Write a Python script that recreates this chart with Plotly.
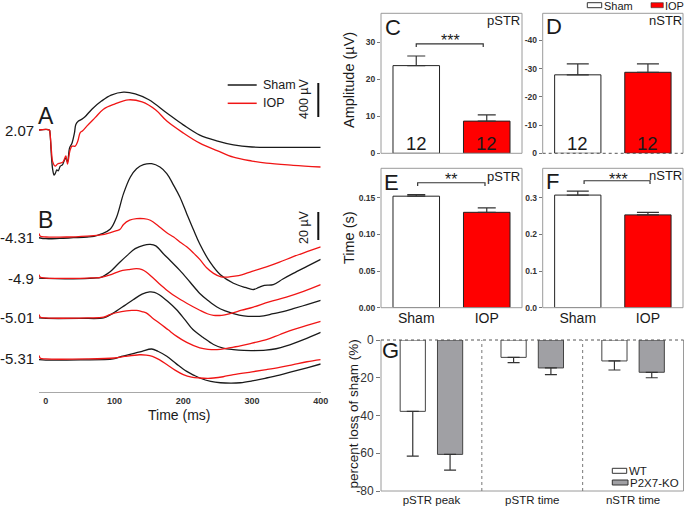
import plotly.graph_objects as go

W, H = 685, 511
FONT = "Liberation Sans, Arial, sans-serif"

# ---------------- Panel A : flash ERG (µV, relative to baseline) ----------------
tA_sham = [-10, 5, 6, 8, 10, 12, 14, 16, 18, 21, 24, 27, 29, 31.5, 34.5, 38, 41.6, 43.6, 47.4,
           52, 57, 67, 81, 95, 113, 130, 150, 176, 200, 224, 250, 273, 300, 330, 360, 400]
vA_sham = [0, 0, -35, -295, -470, -530, -505, -470, -480, -425, -410, -355, -330, -375, -210,
           -155, -35, 65, 105, 125, 155, 245, 340, 410, 445, 425, 355, 200, 60, -60, -130,
           -175, -200, -205, -205, -205]
tA_iop = [-10, 5, 6, 8, 10, 13.5, 17, 20.8, 25, 29, 31.5, 35, 38, 42.6, 46.5, 50, 53.5, 59.6,
          71.7, 83.8, 100, 120, 140, 160, 176, 200, 224, 250, 273, 300, 321, 360, 400]
vA_iop = [0, 0, -35, -235, -375, -425, -400, -390, -375, -305, -400, -245, -190, -190, -130,
          -30, -10, 45, 145, 245, 305, 355, 330, 235, 105, -35, -155, -245, -320, -365, -390,
          -415, -435]
A_label = "2.07"

# ---------------- Panel B : STR traces (µV, relative to each baseline) ----------------
B_labels = ["-4.31", "-4.9", "-5.01", "-5.31"]

tB1_sham = [-10, 0, 20, 40, 60, 70, 80, 93.5, 103, 113, 123, 132, 142, 154, 166, 176, 186, 195,
            205, 215, 224, 239, 254, 273, 290, 302, 310, 318, 331, 345, 360, 380, 400]
vB1_sham = [-0.5, -1.2, -1, -0.5, 0, 0.5, 2, 5.5, 14.3, 31, 42.9, 48.8, 51.7, 52.4, 50, 45.3,
            36.9, 28.6, 16.7, 5, -5, -18, -27, -33, -36, -37.5, -36, -34.5, -34, -30, -26,
            -21, -16]
tB1_iop = [-10, -8, 0, 30, 60, 80, 93, 103, 108, 113, 122, 132, 142, 152, 166, 176, 186, 195,
           205, 215, 224, 234, 244, 255, 265, 275, 285, 300, 321, 340, 360, 380, 400]
vB1_iop = [2.5, 0.5, 0, 0, 0.7, 1.5, 3, 4.5, 5.5, 9, 12, 13.1, 13.1, 12, 7, 3, 0, -3.5, -7,
           -11.5, -16, -22, -26, -28.5, -28.6, -28, -27, -24.5, -21.4, -18, -14, -10.5, -7]

tB2_sham = [-10, 0, 40, 70, 80, 93, 105, 118, 130, 142, 152, 160, 171, 182, 195, 210, 224, 236,
            249, 261, 273, 288, 302, 317, 331, 345, 360, 380, 400]
vB2_sham = [0, -0.3, -0.5, 0, 0.5, 4.3, 10, 16, 21, 23.4, 24, 23, 17.4, 12, 5.5, -3, -11, -16,
            -20.7, -23.5, -25.4, -27, -27.4, -27, -25.4, -24, -21.9, -19, -16]
tB2_iop = [-10, -8, 0, 60, 80, 95, 108, 120, 132, 140, 146, 155, 165, 177, 190, 205, 224, 235,
           244, 256, 268, 285, 302, 325, 350, 375, 400]
vB2_iop = [2.5, 0.5, 0, 0, 0.5, 2.5, 5, 6, 6.7, 6, 4.3, 0.5, -4, -9, -13.6, -18, -23, -25.5,
           -26.6, -26.6, -25.4, -23, -20.7, -17, -13.6, -9.5, -4.7]

tB3_sham = [-10, 0, 50, 84, 93, 102, 115, 127, 140, 151, 158, 165, 178, 190, 202, 214, 229, 244,
            258, 273, 288, 302, 320, 335, 350, 375, 400]
vB3_sham = [0, -0.3, -0.3, 0, 2, 4.7, 9, 13, 17, 18.6, 18.3, 16.6, 11.5, 6, -1, -8.3, -14, -19,
            -21.5, -22.6, -23.2, -23.3, -23, -22, -20, -15.5, -10.3]
tB3_iop = [-10, -8, 0, 60, 84, 93, 110, 125, 132, 140, 146, 155, 165, 178, 190, 205, 224, 236,
           249, 265, 283, 300, 321, 340, 360, 380, 400]
vB3_iop = [2.5, 0.5, 0, 0, 0.5, 2.4, 4.5, 5.4, 5.4, 4.5, 3.6, 0, -3.6, -8.5, -13, -17.5, -21.4,
           -22.4, -22.6, -21.5, -20, -18, -15.5, -12, -8.3, -5.3, -2.4]

tB4_sham = [-10, 0, 50, 98, 110, 127, 140, 154, 163, 176, 190, 205, 215, 224, 240, 254, 270, 283,
            300, 321, 340, 360, 380, 400]
vB4_sham = [-0.5, -0.8, -0.7, 0, 1.8, 3.8, 5.5, 7.1, 5.5, 1.9, -3.5, -8.9, -11.5, -13.6, -16, -17,
            -17.3, -17, -15.7, -13.6, -11.5, -8.9, -6.3, -3.6]
tB4_iop = [-10, -8, 0, 60, 100, 115, 136, 146, 155, 165, 176, 188, 200, 212, 224, 236, 244, 258,
           273, 300, 321, 340, 360, 380, 400]
vB4_iop = [2.5, 0.5, 0, 0, 0.7, 1.8, 3, 2.8, 1.9, -0.5, -4, -8, -11.2, -13, -13.6, -13.8, -13.6,
           -12.7, -11.2, -9.2, -7.6, -6, -4, -2, -0.5]

# ---------------- Bar panels ----------------
groups = ["Sham", "IOP"]
n_per_group = [12, 12]
pSTR_amp = [23.7, 8.7]          # C
pSTR_amp_err = [2.6, 1.7]
nSTR_amp = [-27.8, -28.7]       # D
nSTR_amp_err = [3.9, 3.0]
pSTR_time = [0.152, 0.130]      # E
pSTR_time_err = [0.002, 0.006]
nSTR_time = [0.307, 0.253]      # F
nSTR_time_err = [0.011, 0.007]

G_cats = ["pSTR peak", "pSTR time", "nSTR time"]
G_wt = [-37.8, -9.2, -11.1]
G_wt_err = [23.7, 2.8, 4.8]
G_ko = [-60.6, -14.8, -17.1]
G_ko_err = [8.3, 3.5, 2.9]

C_ticks = [0, 10, 20, 30]
D_ticks = [0, -10, -20, -30, -40, -50]
E_ticks = [0, 0.05, 0.10, 0.15]
F_ticks = [0, 0.1, 0.2, 0.3]
G_ticks = [0, -20, -40, -60, -80]

# ---------------- layout helpers ----------------
def px(x):
    return x / W

def py(y):
    return 1 - y / H

def labels(vals, fmt="{:g}"):
    return [fmt.format(v) for v in vals]

BLACK = "#1a1a1a"
RED = "#f01515"
BAR_RED = "#ff0000"
KO_GRAY = "#a0a0a4"
FRAME = "#9a9a9a"
B_offsets = [110.7, 81.4, 52.9, 23.6]   # vertical stacking offsets (µV) of the B traces

fig = go.Figure()

# Panel A traces
fig.add_trace(go.Scatter(x=tA_sham, y=vA_sham, mode="lines", line=dict(color=BLACK, width=1.3),
                         xaxis="x2", yaxis="y2", line_shape="spline"))
fig.add_trace(go.Scatter(x=tA_iop, y=vA_iop, mode="lines", line=dict(color=RED, width=1.3),
                         xaxis="x2", yaxis="y2", line_shape="spline"))

# Panel B traces
B_series = [(tB1_sham, vB1_sham, tB1_iop, vB1_iop),
            (tB2_sham, vB2_sham, tB2_iop, vB2_iop),
            (tB3_sham, vB3_sham, tB3_iop, vB3_iop),
            (tB4_sham, vB4_sham, tB4_iop, vB4_iop)]
for (ts, vs, ti, vi), off in zip(B_series, B_offsets):
    fig.add_trace(go.Scatter(x=ts, y=[v + off for v in vs], mode="lines", line_shape="spline",
                             line=dict(color=BLACK, width=1.3), xaxis="x", yaxis="y"))
    fig.add_trace(go.Scatter(x=ti, y=[v + off for v in vi], mode="lines", line_shape="spline",
                             line=dict(color=RED, width=1.3), xaxis="x", yaxis="y"))

bar_line = dict(color="#222", width=1)
def err(plus, minus, w):
    return dict(type="data", symmetric=False, array=plus, arrayminus=minus,
                color="#333", thickness=1.2, width=w)

pos2 = [0, 1]
fig.add_trace(go.Bar(x=pos2, y=pSTR_amp, width=0.66, marker=dict(color=["white", BAR_RED], line=bar_line),
                     error_y=err(pSTR_amp_err, [0, 0], 9), xaxis="x3", yaxis="y3"))
fig.add_trace(go.Bar(x=pos2, y=nSTR_amp, width=0.66, marker=dict(color=["white", BAR_RED], line=bar_line),
                     error_y=err([0, 0], nSTR_amp_err, 11), xaxis="x4", yaxis="y4"))
fig.add_trace(go.Bar(x=pos2, y=pSTR_time, width=0.66, marker=dict(color=["white", BAR_RED], line=bar_line),
                     error_y=err(pSTR_time_err, [0, 0], 9), xaxis="x5", yaxis="y5"))
fig.add_trace(go.Bar(x=pos2, y=nSTR_time, width=0.66, marker=dict(color=["white", BAR_RED], line=bar_line),
                     error_y=err(nSTR_time_err, [0, 0], 11), xaxis="x6", yaxis="y6"))

pos3 = [0, 1, 2]
fig.add_trace(go.Bar(x=pos3, y=G_wt, width=0.25, offset=-0.31,
                     marker=dict(color="white", line=dict(color="#444", width=1)),
                     error_y=err([0, 0, 0], G_wt_err, 6), xaxis="x7", yaxis="y7"))
fig.add_trace(go.Bar(x=pos3, y=G_ko, width=0.25, offset=0.06,
                     marker=dict(color=KO_GRAY, line=dict(color="#444", width=1)),
                     error_y=err([0, 0, 0], G_ko_err, 6), xaxis="x7", yaxis="y7"))

tickfont_b = dict(family=FONT, size=8.5, color="#333", weight="bold")
hidden = dict(visible=False, automargin=False)

bar_x_common = dict(range=[-0.5, 1.5], showgrid=False, zeroline=False, showline=False, ticks="",
                    fixedrange=True, automargin=False)
bar_y_common = dict(showgrid=False, zeroline=False, showline=False, ticks="outside", ticklen=3,
                    tickcolor="#777", tickfont=tickfont_b, fixedrange=True, automargin=False)

xC = [px(381), px(522)]
xD = [px(542.7), px(683)]
yTop = [py(153.3), py(13.3)]
yMid = [py(307.7), py(168.3)]

fig.update_layout(
    template="none",
    width=W, height=H, margin=dict(l=0, r=0, t=0, b=0, pad=0, autoexpand=False),
    paper_bgcolor="white", plot_bgcolor="rgba(0,0,0,0)",
    showlegend=False, barmode="overlay", hovermode=False,
    font=dict(family=FONT, color="#1a1a1a"),
    xaxis=dict(domain=[px(39), px(320.7)], range=[-10, 400], anchor="y", showline=True,
               linecolor="#a8a8a8", linewidth=1, ticks="", tickvals=[0, 100, 200, 300, 400],
               tickfont=dict(family=FONT, size=9, color="#333", weight="bold"),
               showgrid=False, zeroline=False, automargin=False),
    yaxis=dict(domain=[py(392), py(150)], range=[0, 172.86], anchor="x", **hidden),
    xaxis2=dict(domain=[px(39), px(320.7)], range=[-10, 400], anchor="y2", **hidden),
    yaxis2=dict(domain=[py(200), py(60)], range=[-823, 823], anchor="x2", **hidden),
    xaxis3=dict(domain=xC, anchor="y3", showticklabels=False, **bar_x_common),
    yaxis3=dict(domain=yTop, anchor="x3", range=[0, 37.84], tickvals=C_ticks,
                ticktext=labels(C_ticks), **bar_y_common),
    xaxis4=dict(domain=xD, anchor="y4", showticklabels=False, **bar_x_common),
    yaxis4=dict(domain=yTop, anchor="x4", range=[0, -49.6], tickvals=D_ticks,
                ticktext=labels(D_ticks), **bar_y_common),
    xaxis5=dict(domain=xC, anchor="y5", tickvals=pos2, ticktext=groups,
                tickfont=dict(family=FONT, size=14, color="#1a1a1a"), **bar_x_common),
    yaxis5=dict(domain=yMid, anchor="x5", range=[0, 0.19], tickvals=E_ticks,
                ticktext=labels(E_ticks, "{:.2f}"), **bar_y_common),
    xaxis6=dict(domain=xD, anchor="y6", tickvals=pos2, ticktext=groups,
                tickfont=dict(family=FONT, size=14, color="#1a1a1a"), **bar_x_common),
    yaxis6=dict(domain=yMid, anchor="x6", range=[0, 0.38], tickvals=F_ticks,
                ticktext=labels(F_ticks, "{:.1f}"), **bar_y_common),
    xaxis7=dict(domain=[px(381), px(683.5)], anchor="y7", range=[-0.5, 2.5], tickvals=pos3,
                ticktext=G_cats, tickfont=dict(family=FONT, size=11.5, color="#1a1a1a"),
                showgrid=False, zeroline=False, showline=False, ticks="", fixedrange=True,
                automargin=False),
    yaxis7=dict(domain=[py(491), py(340)], anchor="x7", range=[-80, 0],
                tickvals=G_ticks, ticktext=labels(G_ticks), showgrid=False, zeroline=False,
                showline=False, ticks="outside", ticklen=4, tickcolor="#777",
                tickfont=dict(family=FONT, size=12, color="#333"), fixedrange=True,
                automargin=False),
)

shapes = []
def frame_rect(ax):
    shapes.append(dict(type="rect", xref=f"{ax[0]} domain", yref=f"{ax[1]} domain",
                       x0=0, x1=1, y0=0, y1=1, line=dict(color=FRAME, width=1)))
frame_rect(("x3", "y3"))
frame_rect(("x5", "y5"))
frame_rect(("x6", "y6"))

def seg(xr, yr, x0, y0, x1, y1, color=FRAME, dash="solid", width=1):
    shapes.append(dict(type="line", xref=xr, yref=yr, x0=x0, y0=y0, x1=x1, y1=y1,
                       line=dict(color=color, width=width, dash=dash)))

# D frame: solid left/top/right, dotted zero line at bottom
seg("x4 domain", "y4 domain", 0, 0, 0, 1)
seg("x4 domain", "y4 domain", 0, 1, 1, 1)
seg("x4 domain", "y4 domain", 1, 0, 1, 1)
seg("x4 domain", "y4 domain", 0, 0, 1, 0, color="#555", dash="dot")
# G frame: solid left/bottom/right, dotted zero line on top, dotted separators
seg("x7 domain", "y7 domain", 0, 0, 0, 1)
seg("x7 domain", "y7 domain", 0, 0, 1, 0)
seg("x7 domain", "y7 domain", 1, 0, 1, 1)
seg("x7 domain", "y7 domain", 0, 1, 1, 1, color="#555", dash="dot")
seg("x7", "y7 domain", 0.5, 0, 0.5, 1, color="#777", dash="dot")
seg("x7", "y7 domain", 1.5, 0, 1.5, 1, color="#777", dash="dot")

# significance brackets
def bracket(xr, yr, xa, xb, ytop, ylow):
    shapes.append(dict(type="path", xref=xr, yref=yr,
                       path=f"M {xa},{ylow} L {xa},{ytop} L {xb},{ytop} L {xb},{ylow}",
                       line=dict(color="#333", width=1.2)))
bracket("x3", "y3", 0.0, 0.95, 29.6, 28.7)
bracket("x5", "y5", 0.02, 0.975, 0.1703, 0.1658)
bracket("x6", "y6", 0.09, 1.03, 0.346, 0.337)

# scale bars
seg("x2", "y2", 396.5, 153, 396.5, 553, color="#111", width=2)
seg("x", "y", 396.5, 108.6, 396.5, 128.6, color="#111", width=2)

# legend keys (panel A lines)
seg("paper", "paper", px(227.7), py(85), px(256.7), py(85), color=BLACK, width=1.5)
seg("paper", "paper", px(227.7), py(103.3), px(256.7), py(103.3), color=RED, width=1.5)
# legend keys (top bars)
shapes.append(dict(type="rect", xref="paper", yref="paper", x0=px(587.3), x1=px(601.7),
                   y0=py(7.7), y1=py(2.7), fillcolor="white", line=dict(color="#333", width=1)))
shapes.append(dict(type="rect", xref="paper", yref="paper", x0=px(651), x1=px(663.3),
                   y0=py(7.7), y1=py(2.7), fillcolor=BAR_RED, line=dict(color="#333", width=0.6)))
# legend keys (G)
shapes.append(dict(type="rect", xref="paper", yref="paper", x0=px(612.3), x1=px(626.7),
                   y0=py(473.3), y1=py(468.3), fillcolor="white", line=dict(color="#333", width=1)))
shapes.append(dict(type="rect", xref="paper", yref="paper", x0=px(612.3), x1=px(628),
                   y0=py(485), y1=py(480), fillcolor=KO_GRAY, line=dict(color="#333", width=1)))

ann = []
def text(x, y, s, size, xanchor="center", yanchor="middle", angle=0, xref="paper", yref="paper",
         color="#1a1a1a"):
    ann.append(dict(x=x, y=y, xref=xref, yref=yref, text=s, showarrow=False, xanchor=xanchor,
                    yanchor=yanchor, textangle=angle, borderpad=0,
                    font=dict(family=FONT, size=size, color=color)))

# left panel labels
text(px(35), 0, A_label, 15, xanchor="right", yref="y2")
for lab, off in zip(B_labels, B_offsets):
    text(px(35), off, lab, 15, xanchor="right", yref="y")
text(px(46), py(116), "A", 23)
text(px(45), py(220), "B", 23)
text(px(262), py(85), "Sham", 12.5, xanchor="left")
text(px(262), py(103.3), "IOP", 12.5, xanchor="left")
text(px(304), py(99), "400 µV", 12.5, angle=-90)
text(px(304), py(227), "20 µV", 12.5, angle=-90)
text(px(179), py(415), "Time (ms)", 14)

# panel letters and titles
text(px(392.5), py(27.5), "C", 22)
text(px(554), py(26), "D", 22)
text(px(391), py(182.5), "E", 22)
text(px(552.5), py(181.5), "F", 22)
text(px(390), py(350), "G", 22)
text(px(520.5), py(20), "pSTR", 13, xanchor="right")
text(px(682.5), py(20), "nSTR", 13, xanchor="right")
text(px(520.5), py(177), "pSTR", 13, xanchor="right")
text(px(682.5), py(175.5), "nSTR", 13, xanchor="right")

# n labels
for xa in ("x3", "x4"):
    for p, n in zip(pos2, n_per_group):
        text(p, py(143.7), str(n), 18.5, xref=xa)

# stars
text(px(450), py(41), "***", 16)
text(px(451), py(179), "**", 16)
text(px(618), py(179), "***", 16)

# y titles
text(px(349), py(80), "Amplitude (µV)", 14.5, angle=-90)
text(px(349), py(238), "Time (s)", 14.5, angle=-90)
text(px(352.5), py(414), "percent loss of sham (%)", 13.5, angle=-90)

# top legend and G legend text
text(px(602.5), py(5.5), "Sham", 11, xanchor="left")
text(px(663.8), py(5.5), "IOP", 11, xanchor="left")
text(px(627.5), py(470.5), "WT", 11.5, xanchor="left")
text(px(628.8), py(482.8), "P2X7-KO", 11.5, xanchor="left")

fig.update_layout(shapes=shapes, annotations=ann)
fig.write_html("out.html", config={"displayModeBar": False, "staticPlot": True},
               post_script="document.body.style.margin='0';document.body.style.padding='0';"
                           "document.body.style.overflow='hidden';")
